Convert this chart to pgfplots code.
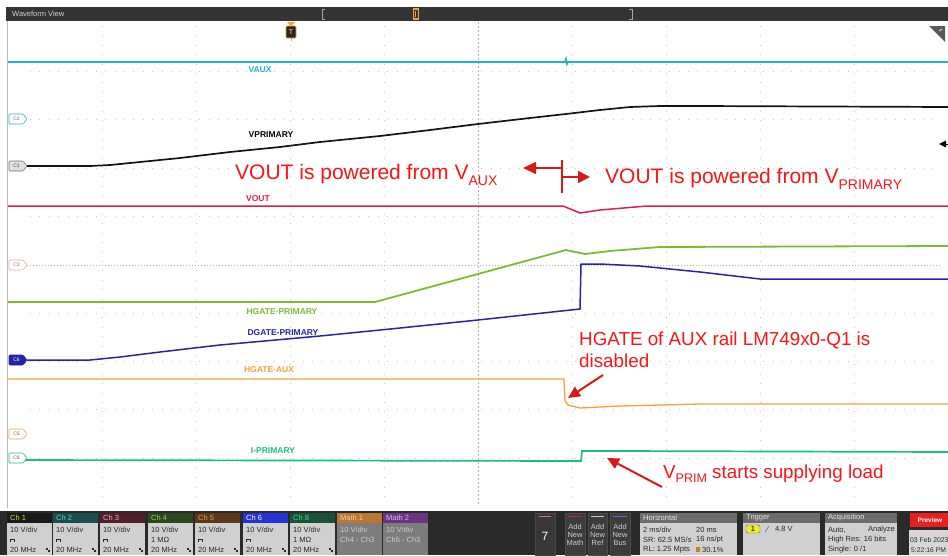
\documentclass[border=0pt]{standalone}
\usepackage{fontspec}
\setmainfont{Liberation Sans}
\usepackage{pgfplots}
\pgfplotsset{compat=1.18}
\usetikzlibrary{arrows.meta}

\definecolor{cvaux}{RGB}{32,178,200}
\definecolor{cvout}{RGB}{226,28,72}
\definecolor{cgreen}{RGB}{122,190,48}
\definecolor{cblue}{RGB}{36,36,168}
\definecolor{corange}{RGB}{246,160,56}
\definecolor{cteal}{RGB}{28,190,128}
\definecolor{annred}{RGB}{250,20,20}
\definecolor{arrred}{RGB}{215,25,25}
\definecolor{panel}{RGB}{42,42,42}
\definecolor{bodygray}{RGB}{208,208,208}
\definecolor{gridc}{RGB}{196,196,196}
\definecolor{bodytext}{RGB}{40,40,40}
\definecolor{mathbody}{RGB}{125,125,125}
\definecolor{mathtext}{RGB}{205,205,205}
\definecolor{topbar}{RGB}{52,52,52}
\definecolor{topbartext}{RGB}{210,210,210}
\definecolor{hA}{RGB}{26,26,26}\definecolor{tA}{RGB}{226,214,40}
\definecolor{hB}{RGB}{26,78,78}\definecolor{tB}{RGB}{80,210,220}
\definecolor{hC}{RGB}{82,30,42}\definecolor{tC}{RGB}{240,170,190}
\definecolor{hD}{RGB}{46,70,30}\definecolor{tD}{RGB}{150,215,60}
\definecolor{hE}{RGB}{92,56,24}\definecolor{tE}{RGB}{245,160,60}
\definecolor{hF}{RGB}{36,52,212}
\definecolor{hG}{RGB}{24,82,56}\definecolor{tG}{RGB}{60,220,150}
\definecolor{hM}{RGB}{185,120,50}\definecolor{tM}{RGB}{240,205,160}
\definecolor{hN}{RGB}{108,52,130}\definecolor{tN}{RGB}{215,180,235}
\definecolor{btnfill}{RGB}{60,60,60}\definecolor{btndraw}{RGB}{76,76,76}
\definecolor{boxseven}{RGB}{56,56,56}\definecolor{boxsevend}{RGB}{72,72,72}
\definecolor{pinkl}{RGB}{230,100,150}\definecolor{redl}{RGB}{200,40,40}
\definecolor{greyl}{RGB}{200,200,212}\definecolor{purpl}{RGB}{150,80,220}
\definecolor{hdr}{RGB}{108,108,108}
\definecolor{trigy}{RGB}{240,235,40}\definecolor{slashc}{RGB}{120,90,190}
\definecolor{prev}{RGB}{235,30,30}\definecolor{datebg}{RGB}{215,215,215}

\newcommand{\uifont}{\fontsize{7.5}{8}\selectfont}
\newcommand{\probe}{\rule{0.6pt}{3pt}\rule[2.4pt]{3.5pt}{0.6pt}\rule{0.6pt}{3pt}}

% channel box: x0, header colour, header text colour, title, line 2
\newcommand{\chbox}[5]{%
  \fill[#2] (#1,513) rectangle ({#1+45},523);
  \node[anchor=west, text=#3, font=\uifont, inner sep=0] at ({#1+3},518) {#4};
  \fill[bodygray] (#1,523) rectangle ({#1+45},555);
  \node[anchor=west, text=bodytext, font=\uifont, inner sep=0] at ({#1+3},530) {10 V/div};
  \node[anchor=west, text=bodytext, font=\uifont, inner sep=0] at ({#1+3},540) {#5};
  \node[anchor=west, text=bodytext, font=\uifont, inner sep=0] at ({#1+3},550) {20 MHz};
  \fill[bodytext] ({#1+39},548) rectangle ({#1+41},550);
  \fill[bodytext] ({#1+41},550) rectangle ({#1+43},552);
}
\newcommand{\mathbox}[4]{%
  \fill[#2] (#1,513) rectangle ({#1+45},523);
  \node[anchor=west, text=#3, font=\uifont, inner sep=0] at ({#1+3},518) {#4};
  \fill[mathbody] (#1,523) rectangle ({#1+45},555);
}
% channel marker on the left
\newcommand{\cmark}[5]{%
  \filldraw[fill=#2, draw=#3, line width=0.6pt, rounded corners=1pt]
    (9,{#1-5}) -- (23,{#1-5}) -- (27,#1) -- (23,{#1+5}) -- (9,{#1+5}) -- cycle;
  \node[font=\fontsize{5}{5}\selectfont, text=#4, inner sep=0] at (16.5,#1) {#5};
}

\begin{document}
\begin{tikzpicture}
\begin{axis}[
  scale only axis, width=948pt, height=555pt,
  xmin=0, xmax=948, ymin=0, ymax=555, y dir=reverse,
  hide axis, clip=false]

% background
\fill[white] (0,0) rectangle (948,555);

% top bar
\fill[topbar] (6,7) rectangle (948,21);
\node[anchor=west, inner sep=0, text=topbartext, font=\fontsize{7.5}{8}\selectfont] at (12,14) {Waveform View};
\draw[gray!70, line width=0.7pt] (325,9) -- (322,9) -- (322,19) -- (325,19);
\draw[gray!70, line width=0.7pt] (629,9) -- (632,9) -- (632,19) -- (629,19);
\fill[corange] (412.5,8) rectangle (418.5,20);
\fill[black!80] (413.5,10) rectangle (417.5,18);
\fill[corange] (414.7,11) rectangle (416.3,17);

% left border
\draw[gray!55, line width=0.8pt] (7,21) -- (7,508);

% grid
\pgfplotsinvokeforeach{102,196,290,384,572,666,760,854}{
  \draw[gridc, line width=1pt, dash pattern=on 1pt off 8.4pt] (#1,26) -- (#1,505);
}
\pgfplotsinvokeforeach{71,119,168,216,313,361,409,458}{
  \draw[gridc, line width=1pt, dash pattern=on 1pt off 8.4pt] (30,#1) -- (940,#1);
}
\draw[gray!60, line width=0.8pt, dash pattern=on 2pt off 2pt] (478,22) -- (478,505);
\draw[gray!60, line width=0.8pt, dash pattern=on 1pt off 2pt] (27,265) -- (940,265);

% trigger marker
\fill[corange] (287,22) -- (295,22) -- (291,26) -- cycle;
\filldraw[fill=black!85, draw=corange, line width=0.7pt, rounded corners=1pt] (286,26) rectangle (296,38);
\node[font=\bfseries\fontsize{7}{7}\selectfont, text=corange, inner sep=0] at (291,32) {T};
\draw[corange, line width=0.8pt] (291,38) -- (291,41);

% top right icon
\fill[black!65] (929,26) -- (945,26) -- (945,42) -- cycle;
\draw[white, line width=0.6pt] (939,31) -- (942,29);

% waveforms
\addplot[cvaux, line width=1.6pt] coordinates {
 (8,62) (300,62) (563,62) (565,62) (566,59) (567,64) (568,62) (800,62) (948,62)};
\addplot[black!92, line width=1.7pt] coordinates {
 (27,166) (90,166) (110,165) (140,162) (180,158) (230,152) (280,147) (320,142)
 (380,136) (430,130) (478,124) (530,118) (566,114) (600,110) (630,107)
 (660,106) (700,106) (948,107)};
\addplot[cvout, line width=1.5pt] coordinates {
 (8,206) (563,206) (580,213) (600,210) (647,206) (948,206)};
\addplot[cgreen, line width=1.8pt] coordinates {
 (8,302) (375,302) (566,250) (585,254) (610,251) (660,247) (948,246)};
\addplot[cblue, line width=1.5pt] coordinates {
 (27,360) (90,360) (120,357) (160,352) (220,345) (320,336) (400,328) (478,320)
 (580,309) (581,264) (600,264) (640,266) (700,272) (760,279) (948,279)};
\addplot[corange, line width=1.3pt] coordinates {
 (8,379) (564,379) (565,401) (568,405) (580,408) (620,406) (700,404) (948,404)};
\addplot[cteal, line width=1.7pt] coordinates {
 (22,460) (581,461) (582,451) (620,451) (948,452)};

% channel markers
\cmark{119}{white}{cvaux}{black!60}{C2}
\cmark{166}{black!12}{black!55}{black!75}{C1}
\cmark{265}{white}{pink!80!red}{black!50}{C3}
\cmark{360}{cblue}{cblue}{white}{C6}
\cmark{434}{white}{corange}{black!60}{C5}
\cmark{458}{white}{cteal}{black!60}{C8}
\fill[black] (939,144) -- (946,140.5) -- (946,147.5) -- cycle;
\draw[black, line width=0.9pt] (944,144) -- (948,144);

% trace labels
\node[text=cvaux, font=\bfseries\fontsize{8.5}{9}\selectfont, inner sep=0] at (260,70) {VAUX};
\node[text=black, font=\bfseries\fontsize{8.5}{9}\selectfont, inner sep=0] at (271,135) {VPRIMARY};
\node[text=cvout, font=\bfseries\fontsize{8.5}{9}\selectfont, inner sep=0] at (258,199) {VOUT};
\node[text=cgreen, font=\bfseries\fontsize{8.5}{9}\selectfont, inner sep=0] at (282,312) {HGATE-PRIMARY};
\node[text=cblue, font=\bfseries\fontsize{8.5}{9}\selectfont, inner sep=0] at (283,333) {DGATE-PRIMARY};
\node[text=corange, font=\bfseries\fontsize{8.5}{9}\selectfont, inner sep=0] at (269,370) {HGATE-AUX};
\node[text=cteal, font=\bfseries\fontsize{8.5}{9}\selectfont, inner sep=0] at (273,451) {I-PRIMARY};

% annotations
\node[anchor=base west, inner sep=0, text=annred, font=\fontsize{21}{25}\selectfont] at (235,179)
  {VOUT is powered from V\raisebox{-6pt}{\fontsize{14}{14}\selectfont AUX}};
\node[anchor=base west, inner sep=0, text=annred, font=\fontsize{21}{25}\selectfont] at (605,183)
  {VOUT is powered from V\raisebox{-6pt}{\fontsize{14}{14}\selectfont PRIMARY}};
\draw[arrred, line width=1.6pt, -{Triangle[length=13pt,width=12pt]}] (562,168) -- (523,168);
\draw[arrred, line width=1.6pt] (562,160) -- (562,193);
\draw[arrred, line width=1.6pt, -{Triangle[length=12pt,width=12pt]}] (562,177) -- (590,177);

\node[anchor=base west, inner sep=0, text=annred, font=\fontsize{18.8}{22}\selectfont] at (579,345)
  {HGATE of AUX rail LM749x0-Q1 is};
\node[anchor=base west, inner sep=0, text=annred, font=\fontsize{18.8}{22}\selectfont] at (579,367)
  {disabled};
\draw[arrred, line width=2pt, -{Triangle[length=12pt,width=11pt]}] (603,375) -- (568,398);

\node[anchor=base west, inner sep=0, text=annred, font=\fontsize{18.8}{22}\selectfont] at (663,478)
  {V\raisebox{-4pt}{\fontsize{12.5}{13}\selectfont PRIM} starts supplying load};
\draw[arrred, line width=2pt, -{Triangle[length=12pt,width=11pt]}] (662,487) -- (607,458);

% bottom panel
\fill[panel] (0,511) rectangle (948,555);
\chbox{7}{hA}{tA}{Ch 1}{\probe}
\chbox{53}{hB}{tB}{Ch 2}{\probe}
\chbox{100}{hC}{tC}{Ch 3}{\probe}
\chbox{148}{hD}{tD}{Ch 4}{1 MΩ}
\chbox{195}{hE}{tE}{Ch 5}{\probe}
\chbox{243}{hF}{white}{Ch 6}{\probe}
\chbox{290}{hG}{tG}{Ch 8}{1 MΩ}
\mathbox{337}{hM}{tM}{Math 1}
\node[anchor=west, text=mathtext, font=\uifont, inner sep=0] at (340,530) {10 V/div};
\node[anchor=west, text=mathtext, font=\uifont, inner sep=0] at (340,540) {Ch4 - Ch3};
\mathbox{383}{hN}{tN}{Math 2}
\node[anchor=west, text=mathtext, font=\uifont, inner sep=0] at (386,530) {10 V/div};
\node[anchor=west, text=mathtext, font=\uifont, inner sep=0] at (386,540) {Ch5 - Ch3};

% "7" box and add-new buttons
\filldraw[fill=boxseven, draw=boxsevend] (535,513) rectangle (555,555);
\draw[pinkl, line width=0.8pt] (539,516) -- (551,516);
\node[text=white, font=\fontsize{12}{12}\selectfont, inner sep=0] at (545,536) {7};
\filldraw[fill=btnfill, draw=btndraw] (565,513) rectangle (585,555);
\filldraw[fill=btnfill, draw=btndraw] (588,513) rectangle (607,555);
\filldraw[fill=btnfill, draw=btndraw] (610,513) rectangle (630,555);
\draw[redl, line width=0.8pt] (568,516) -- (582,516);
\draw[greyl, line width=0.8pt] (591,516) -- (604,516);
\draw[purpl, line width=0.8pt] (613,516) -- (627,516);
\node[text=mathtext, font=\uifont, inner sep=0, align=center] at (575,535) {Add\\New\\Math};
\node[text=mathtext, font=\uifont, inner sep=0, align=center] at (597.5,535) {Add\\New\\Ref};
\node[text=mathtext, font=\uifont, inner sep=0, align=center] at (620,535) {Add\\New\\Bus};

% horizontal box
\fill[hdr] (640,513) rectangle (737,523);
\node[anchor=west, text=white!90!black, font=\uifont, inner sep=0] at (643,518) {Horizontal};
\fill[bodygray] (640,523) rectangle (737,555);
\node[anchor=west, text=bodytext, font=\uifont, inner sep=0] at (643,530) {2 ms/div};
\node[anchor=west, text=bodytext, font=\uifont, inner sep=0] at (696,530) {20 ms};
\node[anchor=west, text=bodytext, font=\uifont, inner sep=0] at (643,540) {SR: 62.5 MS/s};
\node[anchor=west, text=bodytext, font=\uifont, inner sep=0] at (696,540) {16 ns/pt};
\node[anchor=west, text=bodytext, font=\uifont, inner sep=0] at (643,550) {RL: 1.25 Mpts};
\fill[corange!80!black] (696,547) rectangle (700,552);
\node[anchor=west, text=bodytext, font=\uifont, inner sep=0] at (702,550) {30.1\%};

% trigger box
\fill[hdr] (743,513) rectangle (820,523);
\node[anchor=west, text=white!90!black, font=\uifont, inner sep=0] at (746,518) {Trigger};
\fill[bodygray] (743,523) rectangle (820,555);
\filldraw[fill=trigy, draw=black!60, rounded corners=1.5pt] (746,525) rectangle (760,533);
\node[text=black, font=\uifont, inner sep=0] at (753,529) {1};
\draw[slashc, line width=0.6pt] (765,532) -- (769,526);
\node[anchor=west, text=bodytext, font=\uifont, inner sep=0] at (775,529) {4.8 V};

% acquisition box
\fill[hdr] (825,513) rectangle (897,523);
\node[anchor=west, text=white!90!black, font=\uifont, inner sep=0] at (828,518) {Acquisition};
\fill[bodygray] (825,523) rectangle (897,555);
\node[anchor=west, text=bodytext, font=\uifont, inner sep=0] at (828,530) {Auto,};
\node[anchor=east, text=bodytext, font=\uifont, inner sep=0] at (895,530) {Analyze};
\node[anchor=west, text=bodytext, font=\uifont, inner sep=0] at (828,540) {High Res: 16 bits};
\node[anchor=west, text=bodytext, font=\uifont, inner sep=0] at (828,550) {Single: 0 /1};

% preview and date
\fill[prev] (910,513) rectangle (948,527);
\node[text=white, font=\bfseries\fontsize{6.5}{7}\selectfont, inner sep=0] at (930,520) {Preview};
\fill[datebg] (909,530) rectangle (948,555);
\node[anchor=west, text=bodytext, font=\fontsize{6.8}{7}\selectfont, inner sep=0] at (910,540) {03 Feb 2023};
\node[anchor=west, text=bodytext, font=\fontsize{6.8}{7}\selectfont, inner sep=0] at (911,550) {5:22:16 PM};
\end{axis}
\pgfresetboundingbox
\path (current axis.south west) rectangle (current axis.north east);
\end{tikzpicture}
\end{document}
